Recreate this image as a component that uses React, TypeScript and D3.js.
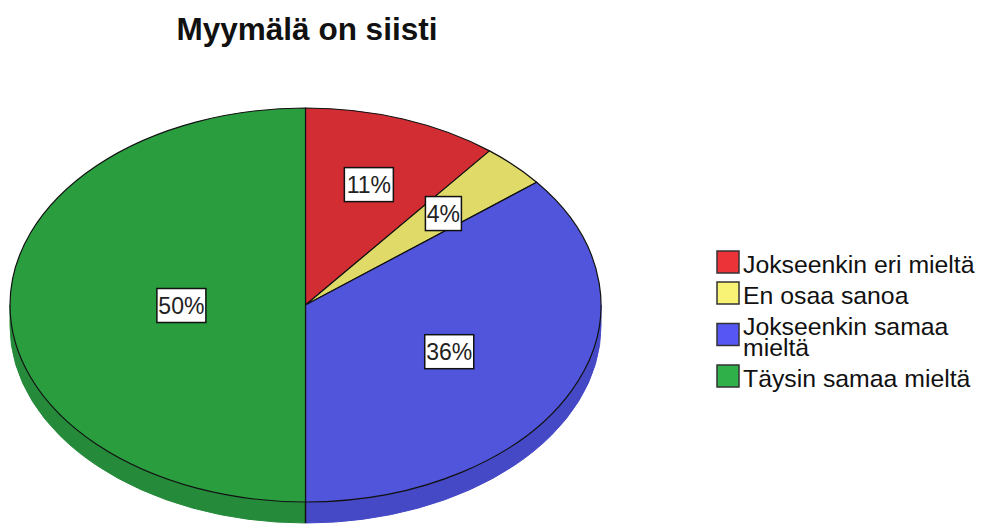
import React from 'react';
import * as d3 from 'd3';

const title = 'Myymälä on siisti';
const categories = ['Jokseenkin eri mieltä', 'En osaa sanoa', 'Jokseenkin samaa mieltä', 'Täysin samaa mieltä'];
const shares = [10.7, 3.6, 35.7, 50.0];

const topColors = ['#d22d33', '#e0da68', '#5055dc', '#2a9e3f'];
const sideColors = ['#a82428', '#b3ae52', '#4549c6', '#258b3b'];
const legendColors = ['#ec3338', '#f8f374', '#5656f4', '#2fb049'];
// label distance from centre, as a fraction of the radius
const labelRadius = [0.65, 0.66, 0.54, 0.42];

const W = 984;
const H = 524;
const cx = 305.5;
const cy = 305;
const rx = 295.5;
const ry = 197;
const depth = 21;

const pt = (a: number, r = 1, dy = 0): [number, number] => [
  cx + rx * r * Math.sin(a),
  cy - ry * r * Math.cos(a) + dy,
];

function wrap(s: string, max = 21) {
  if (s.length <= max) return [s];
  const cut = s.lastIndexOf(' ', max);
  return [s.slice(0, cut), s.slice(cut + 1)];
}

export default function App() {
  const arcs = d3.pie<number>().sort(null).value((d) => d)(shares);

  // bottom rim (visible part: angles between pi/2 and 3pi/2)
  const sides = arcs
    .map((a, i) => {
      const s = Math.max(a.startAngle, Math.PI / 2);
      const e = Math.min(a.endAngle, (3 * Math.PI) / 2);
      if (e <= s) return null;
      const p0 = pt(s);
      const p1 = pt(e);
      const q1 = pt(e, 1, depth);
      const q0 = pt(s, 1, depth);
      const d = `M${p0}A${rx},${ry} 0 0 1 ${p1}L${q1}A${rx},${ry} 0 0 0 ${q0}Z`;
      return { d, i };
    })
    .filter(Boolean) as { d: string; i: number }[];

  const tops = arcs.map((a, i) => {
    const p0 = pt(a.startAngle);
    const p1 = pt(a.endAngle);
    const large = a.endAngle - a.startAngle > Math.PI ? 1 : 0;
    return { d: `M${cx},${cy}L${p0}A${rx},${ry} 0 ${large} 1 ${p1}Z`, i };
  });

  const labels = arcs.map((a, i) => {
    const mid = (a.startAngle + a.endAngle) / 2;
    const [x, y] = pt(mid, labelRadius[i]);
    const txt = `${Math.round(shares[i])}%`;
    const w = txt.length * 13 + 10;
    return { x, y, txt, w };
  });

  let base = 273;
  const legend = categories.map((c, i) => {
    const lines = wrap(c);
    const first = base;
    const last = base + (lines.length - 1) * 21;
    base = last + 31;
    return { lines, first, swTop: (first + last) / 2 - 22, i };
  });

  return (
    <svg
      width={W}
      height={H}
      style={{ position: 'absolute', left: 0, top: 0, background: '#fff' }}
      fontFamily="'Liberation Sans', Arial, sans-serif"
    >
      <text x={307} y={40} textAnchor="middle" fontSize={31.5} fontWeight="bold" fill="#111">
        {title}
      </text>

      {sides.map((s) => (
        <path key={'s' + s.i} d={s.d} fill={sideColors[s.i]} stroke={sideColors[s.i]} strokeWidth={1} />
      ))}
      <line x1={cx} y1={cy + ry} x2={cx} y2={cy + ry + depth} stroke="#111" strokeWidth={1.5} />

      {tops.map((t) => (
        <path key={'t' + t.i} d={t.d} fill={topColors[t.i]} stroke="#111" strokeWidth={1.2} strokeLinejoin="round" />
      ))}

      {labels.map((l) => (
        <g key={l.txt}>
          <rect x={l.x - l.w / 2} y={l.y - 16.5} width={l.w} height={34} fill="#fff" stroke="#111" strokeWidth={1.5} />
          <text x={l.x} y={l.y + 8.5} textAnchor="middle" fontSize={23} fill="#222">
            {l.txt}
          </text>
        </g>
      ))}

      {legend.map((g) => (
        <g key={'l' + g.i}>
          <rect x={717} y={g.swTop} width={22} height={22} fill={legendColors[g.i]} stroke="#333" strokeWidth={1.5} />
          {g.lines.map((ln, k) => (
            <text key={k} x={743} y={g.first + k * 21} fontSize={24.8} fill="#111">
              {ln}
            </text>
          ))}
        </g>
      ))}
    </svg>
  );
}
